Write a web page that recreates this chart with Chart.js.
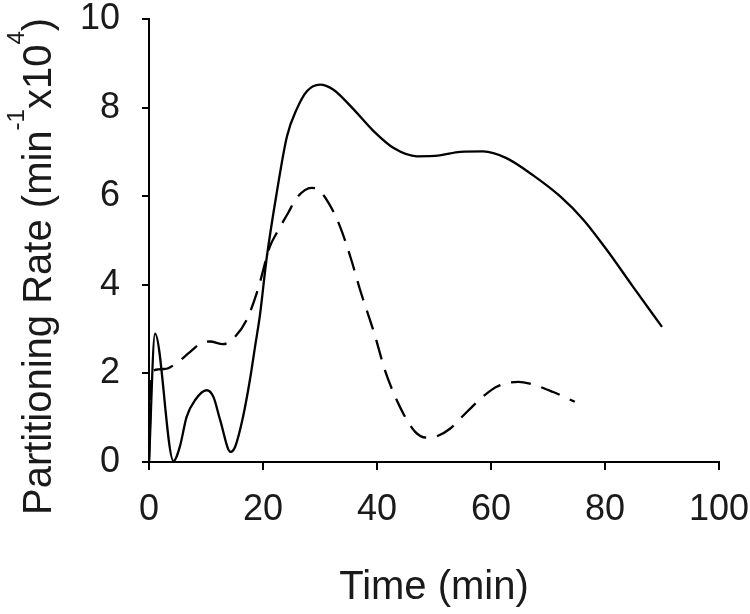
<!DOCTYPE html>
<html>
<head>
<meta charset="utf-8">
<script src="https://cdn.jsdelivr.net/npm/chart.js@4"></script>
<style>
  html, body { margin: 0; padding: 0; background: #fff; }
  #wrap { width: 750px; height: 614px; }
</style>
</head>
<body>
<div id="wrap"><canvas id="c" width="750" height="614"></canvas></div>
<script>
// ---- data ----
const solidX = [0, 1.05, 4.3, 5.4, 6.6, 8.1, 10.1, 11.3, 12.5, 14.3, 15.1, 16.5, 17.7, 18.6, 19.5, 20.6, 22.4, 24.2, 25.9, 27.7, 30, 32.3, 35.9, 39.4, 43, 47, 51, 54.6, 58.6, 62.7, 67.4, 72.1, 76.2, 80.3, 84.9, 90];
const solidY = [0, 2.9, 0.02, 0.34, 1.02, 1.4, 1.62, 1.47, 0.94, 0.23, 0.34, 1.02, 1.85, 2.6, 3.35, 4.56, 6.07, 7.35, 7.96, 8.37, 8.52, 8.41, 7.96, 7.47, 7.08, 6.9, 6.92, 7.0, 7.01, 6.86, 6.47, 6.0, 5.47, 4.79, 3.96, 3.05];

const dashX = [0, 0.5, 2.8, 5, 6.9, 8.9, 10.7, 13, 14.8, 17.1, 19, 21.2, 22.4, 24.4, 25.9, 28.5, 29.7, 31.5, 33.5, 35.5, 37, 39.6, 41.4, 44, 46.7, 48.7, 50.5, 52.8, 54.6, 58.9, 61, 64.8, 66.8, 70.9, 74.7];
const dashY = [0, 2.05, 2.1, 2.25, 2.45, 2.66, 2.72, 2.66, 2.79, 3.2, 3.85, 4.86, 5.17, 5.62, 5.96, 6.19, 6.15, 5.85, 5.32, 4.56, 3.9, 2.87, 2.07, 1.25, 0.68, 0.55, 0.58, 0.75, 0.98, 1.51, 1.7, 1.81, 1.77, 1.58, 1.36];

const xTicks = [0, 20, 40, 60, 80, 100];
const yTicks = [0, 2, 4, 6, 8, 10];

const xTitle = 'Time (min)';
// y title pieces: [text, isSuperscript]
const yTitleParts = [['Partitioning Rate (min', false], ['-1', true], ['x10', false], ['4', true], [')', false]];

const FONT = '"Liberation Sans", Arial, Helvetica, sans-serif';
const TXT = '#1a1a1a';

const yTitlePlugin = {
  id: 'yTitle',
  afterDraw(chart) {
    const ctx = chart.ctx;
    ctx.save();
    ctx.translate(51, 515);
    ctx.rotate(-Math.PI / 2);
    ctx.fillStyle = TXT;
    ctx.textBaseline = 'alphabetic';
    ctx.textAlign = 'left';
    let pos = 0;
    for (const [t, sup] of yTitleParts) {
      ctx.font = (sup ? '24px ' : '40px ') + FONT;
      ctx.fillText(t, pos, sup ? -27 : 0);
      pos += ctx.measureText(t).width;
    }
    ctx.restore();
  }
};

const toPts = (xs, ys) => xs.map((x, i) => ({ x: x, y: ys[i] }));

new Chart(document.getElementById('c'), {
  type: 'line',
  data: {
    datasets: [
      {
        label: 'solid',
        data: toPts(solidX, solidY),
        borderColor: '#000',
        borderWidth: 2.3,
        pointRadius: 0,
        fill: false,
        cubicInterpolationMode: 'monotone'
      },
      {
        label: 'dashed',
        data: toPts(dashX, dashY),
        borderColor: '#000',
        borderWidth: 2.3,
        borderDash: [20, 11],
        pointRadius: 0,
        fill: false,
        cubicInterpolationMode: 'monotone'
      }
    ]
  },
  options: {
    responsive: false,
    animation: false,
    events: [],
    layout: { padding: { left: 0, right: 31, top: 19, bottom: 0 } },
    plugins: {
      legend: { display: false },
      tooltip: { enabled: false },
      title: { display: false }
    },
    scales: {
      x: {
        type: 'linear',
        min: 0,
        max: 100,
        afterBuildTicks: (s) => { s.ticks = xTicks.map(v => ({ value: v })); },
        afterFit: (s) => { s.height = 152; s.paddingLeft = 0; s.paddingRight = 0; s.paddingTop = 0; s.paddingBottom = 0; },
        ticks: {
          font: { family: FONT, size: 36 },
          color: TXT,
          padding: 18,
          maxRotation: 0,
          autoSkip: false
        },
        grid: {
          display: true,
          drawOnChartArea: false,
          drawTicks: true,
          tickLength: 8,
          color: '#000',
          lineWidth: 2
        },
        border: { display: true, color: '#000', width: 2 },
        title: {
          display: true,
          text: xTitle,
          color: TXT,
          font: { family: FONT, size: 40 },
          padding: { top: 0, bottom: 2 }
        }
      },
      y: {
        type: 'linear',
        min: 0,
        max: 10,
        afterBuildTicks: (s) => { s.ticks = yTicks.map(v => ({ value: v })); },
        afterFit: (s) => { s.width = 149; s.paddingLeft = 0; s.paddingRight = 0; s.paddingTop = 0; s.paddingBottom = 0; },
        ticks: {
          font: { family: FONT, size: 36 },
          color: TXT,
          padding: 22,
          autoSkip: false
        },
        grid: {
          display: true,
          drawOnChartArea: false,
          drawTicks: true,
          tickLength: 7,
          color: '#000',
          lineWidth: 2
        },
        border: { display: true, color: '#000', width: 2 }
      }
    }
  },
  plugins: [yTitlePlugin]
});
</script>
</body>
</html>
